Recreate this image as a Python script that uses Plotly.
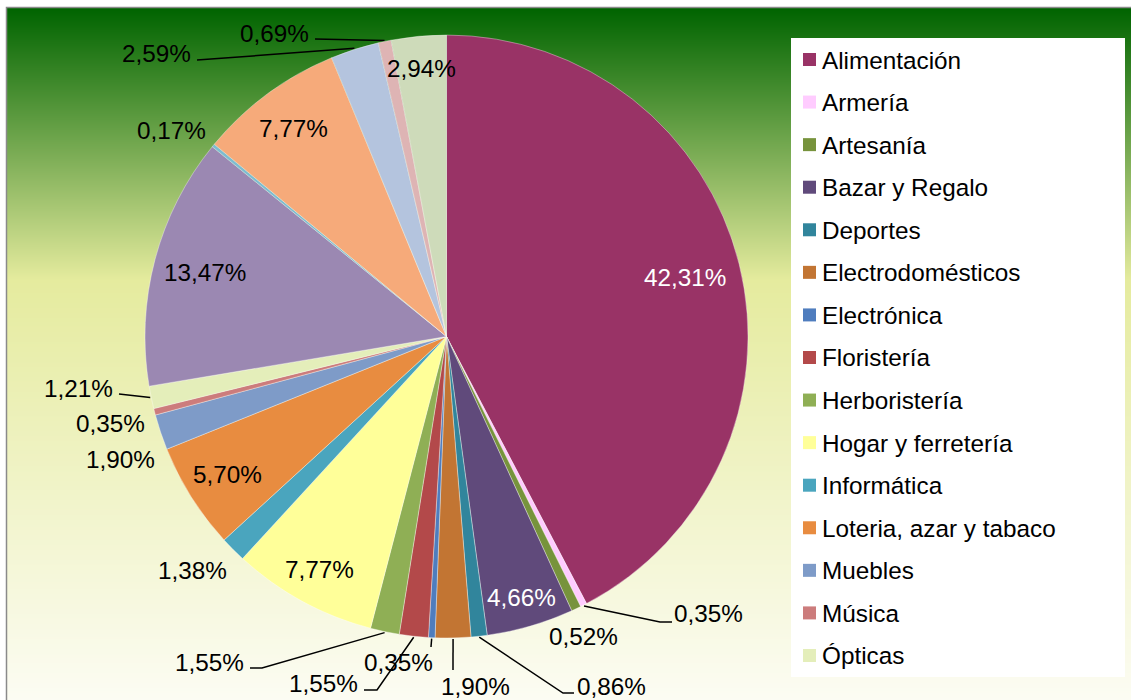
import numpy as np
import plotly.graph_objects as go

# ---------------- data ----------------
categories = [
    "Alimentación", "Armería", "Artesanía", "Bazar y Regalo", "Deportes",
    "Electrodomésticos", "Electrónica", "Floristería", "Herboristería",
    "Hogar y ferretería", "Informática", "Loteria, azar y tabaco", "Muebles",
    "Música", "Ópticas", "Otros", "Perfumería", "Textil y confección",
    "Vehículos", "Viajes", "Zapatería",
]
shares = [
    42.31, 0.35, 0.52, 4.66, 0.86, 1.90, 0.35, 1.55, 1.55, 7.77, 1.38,
    5.70, 1.90, 0.35, 1.21, 13.47, 0.17, 7.77, 2.59, 0.69, 2.94,
]
legend_count = 15  # entries visible in the legend box

# ---------------- style ----------------
colors = [
    "#993366", "#FFCCFF", "#77933C", "#604A7B", "#31859C", "#C27533",
    "#4F7DBE", "#B3494A", "#8FAF55", "#FFFF99", "#4AA5BE", "#E88C40",
    "#7E9BC8", "#CC7C7C", "#E4EEBA", "#9B88B2", "#7DBCD0", "#F6AA7A",
    "#B4C4DE", "#DEB4B4", "#CEDBBA",
]
W, H = 1131, 700
CX, CY, R = 446.5, 336.5, 301.5
FONT = "Liberation Sans, Arial, sans-serif"
FS = 24.3

# label placement: ("in", radius fraction) or ("out", text centre px, leader waypoints px)
label_layout = {
    0: ("in", 0.815),
    1: ("out", (708, 613), [(660, 622), (672, 622)]),
    2: ("out", (583, 636), []),
    3: ("in", 0.90),
    4: ("out", (611, 686), [(563, 693), (574, 693)]),
    5: ("out", (475, 686), [(453, 670)]),
    6: ("out", (398, 662), [(431, 647)]),
    7: ("out", (323, 683), [(377, 690), (364, 690)]),
    8: ("out", (209, 662), [(262, 668), (250, 668)]),
    9: ("in", 0.88),
    10: ("out", (192, 570), []),
    11: ("in", 0.86),
    12: ("out", (120, 459), []),
    13: ("out", (110, 423), []),
    14: ("out", (78, 388), [(119, 394)]),
    15: ("in", 0.83),
    16: ("out", (171, 130), []),
    17: ("in", 0.857),
    18: ("out", (156, 53), [(197, 60)]),
    19: ("out", (274, 33), [(315, 39)]),
    20: ("in", 0.893),
}
white_text = {0, 3}

fig = go.Figure()

# ---------------- background gradient (chart area) ----------------
rows = np.arange(8, 702, 2)
fig.add_trace(go.Heatmap(
    x=[7, W], y=rows, z=[[r, r] for r in rows],
    zmin=8, zmax=700, zsmooth="best", showscale=False, hoverinfo="skip",
    colorscale=[[0.0, "rgb(0,100,0)"], [0.393, "rgb(229,235,158)"],
                [1.0, "rgb(252,252,243)"]],
))

# ---------------- pie ----------------
labels_txt = [f"{v:.2f}%".replace(".", ",") for v in shares]
fig.add_trace(go.Pie(
    labels=categories, values=shares, sort=False, direction="clockwise",
    rotation=0, textinfo="none", showlegend=False,
    marker=dict(colors=colors, line=dict(color="rgba(255,255,255,0.45)", width=0.8)),
    domain=dict(x=[(CX - R) / W, (CX + R) / W], y=[1 - (CY + R) / H, 1 - (CY - R) / H]),
    hovertext=labels_txt, hoverinfo="label+text",
))

# ---------------- labels & leader lines ----------------
vals = np.array(shares)
cum = np.cumsum(vals)
mid_deg = (cum - vals / 2) / vals.sum() * 360.0


def polar(deg, rad):
    a = np.deg2rad(deg)
    return CX + rad * np.sin(a), CY - rad * np.cos(a)


annotations = []
lx, ly = [], []
for i, txt in enumerate(labels_txt):
    spec = label_layout[i]
    if spec[0] == "in":
        x, y = polar(mid_deg[i], R * spec[1])
    else:
        x, y = spec[1]
        if spec[2]:
            sx, sy = polar(mid_deg[i], R + 1)
            pts = [(sx, sy)] + list(spec[2])
            lx += [p[0] for p in pts] + [None]
            ly += [p[1] for p in pts] + [None]
    annotations.append(dict(
        x=x, y=y, xref="x", yref="y", text=txt, showarrow=False,
        xanchor="center", yanchor="middle",
        font=dict(family=FONT, size=FS, color="white" if i in white_text else "black"),
    ))

fig.add_trace(go.Scatter(x=lx, y=ly, mode="lines", hoverinfo="skip",
                         line=dict(color="black", width=1.5), showlegend=False))

# ---------------- legend box ----------------
shapes = [
    dict(type="rect", xref="x", yref="y", x0=791, x1=1125, y0=38, y1=677,
         fillcolor="white", line=dict(width=0), layer="above"),
]
row0, step = 59.5, 42.57
for k in range(legend_count):
    yc = row0 + k * step
    shapes.append(dict(type="rect", xref="x", yref="y", x0=803, x1=816,
                       y0=yc - 6.5, y1=yc + 6.5, fillcolor=colors[k],
                       line=dict(width=0), layer="above"))
    annotations.append(dict(
        x=820, y=yc + 0.5, xref="x", yref="y", text=categories[k], showarrow=False,
        xanchor="left", yanchor="middle",
        font=dict(family=FONT, size=FS, color="black"),
    ))

# chart border
shapes.append(dict(type="rect", xref="paper", yref="paper",
                   x0=6.5 / W, x1=1.02, y0=-0.02, y1=1 - 7.5 / H,
                   line=dict(color="#8A8A8A", width=1.5), fillcolor="rgba(0,0,0,0)",
                   layer="above"))

fig.update_layout(
    width=W, height=H, margin=dict(l=0, r=0, t=0, b=0, pad=0),
    paper_bgcolor="white", plot_bgcolor="rgba(0,0,0,0)",
    showlegend=False, annotations=annotations, shapes=shapes,
    xaxis=dict(domain=[7 / W, 1], range=[7, W], visible=False, fixedrange=True),
    yaxis=dict(domain=[0, 1 - 8 / H], range=[700, 8], visible=False, fixedrange=True),
    font=dict(family=FONT),
)

fig.write_html(
    "out.html",
    config={"displayModeBar": False},
    post_script="document.body.style.margin='0px';document.body.style.overflow='hidden';",
)
